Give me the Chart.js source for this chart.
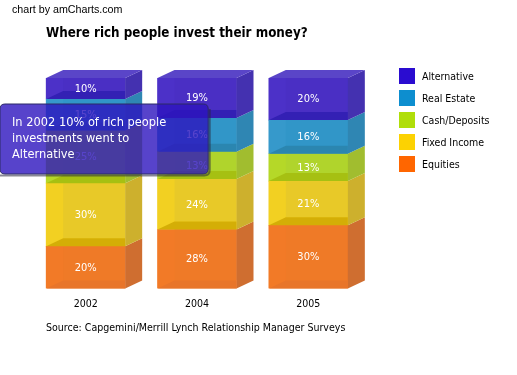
<!DOCTYPE html>
<html>
<head>
<meta charset="utf-8">
<title>Where rich people invest their money?</title>
<script src="https://cdn.jsdelivr.net/npm/chart.js@4"></script>
<style>
    html, body { margin: 0; padding: 0; background: #fff; overflow: hidden; }
    #wrap { position: relative; width: 517px; height: 375px; font-family: "DejaVu Sans Condensed", sans-serif; color: #000; }
    #wrap canvas { position: absolute; left: 0; top: 0; }
    .txt { position: absolute; white-space: nowrap; }
    #credit { left: 12px; top: 2px; font: 10.7px "Liberation Sans", sans-serif; line-height: 14px; }
    #titulo { left: 46px; top: 24px; font: bold 13.3px "DejaVu Sans Condensed", sans-serif; line-height: 18px; }
    #fonte { left: 46px; top: 319px; font-size: 10.55px; line-height: 16px; }
    #legenda { position: absolute; left: 399px; top: 68px; }
    #legenda div { position: relative; height: 22px; font-size: 10.5px; line-height: 17px; padding-left: 23px; }
    #legenda i { position: absolute; left: 0; top: 0; width: 16px; height: 16px; }
</style>
</head>
<body>
<div id="wrap">
    <canvas id="grafico" width="517" height="375"></canvas>
    <div class="txt" id="credit">chart by amCharts.com</div>
    <div class="txt" id="titulo">Where rich people invest their money?</div>
    <div class="txt" id="fonte">Source: Capgemini/Merrill Lynch Relationship Manager Surveys</div>
    <div id="legenda"></div>
</div>
<script>
const anos = ['2002', '2004', '2005'];
const alternative = [10, 19, 20];
const realEstate = [15, 16, 16];
const cashDeposits = [25, 13, 13];
const fixedIncome = [30, 24, 21];
const equities = [20, 28, 30];
const nomes = ['Equities', 'Fixed Income', 'Cash/Deposits', 'Real Estate', 'Alternative'];

// cores: legenda, frente, lateral, faixa de baixo
const corLegenda = ['#ff6600', '#fcd202', '#b0de09', '#0d8ecf', '#2a0cd0'];
const corFrente = ['#f27a27', '#f2d022', '#b5d828', '#3699cb', '#4c31c8'];
const corMeio = ['#ef7a27', '#e8c928', '#b0d42c', '#3196c8', '#4a2fc4'];
const corLado = ['#cf6e30', '#cdb02d', '#a1bd2f', '#2f86b3', '#4431b0'];
const corBase = ['#e8752a', '#d4ae06', '#a6c012', '#2b86b0', '#3320b4'];
const corTopo = '#5a45c8';

const DX = 17, DY = 8;
const fonte = 'DejaVu Sans Condensed';

function poligono(ctx, pontos, cor) {
    ctx.fillStyle = cor;
    ctx.beginPath();
    pontos.forEach((p, i) => i ? ctx.lineTo(p[0], p[1]) : ctx.moveTo(p[0], p[1]));
    ctx.closePath();
    ctx.fill();
}

// desenha as faces 3D em cima das barras do Chart.js
const barras3d = {
    id: 'barras3d',
    afterDatasetsDraw(chart) {
        const ctx = chart.ctx;
        chart.data.datasets.forEach((ds, d) => {
            chart.getDatasetMeta(d).data.forEach((bar, i) => {
                const esq = bar.x - bar.width / 2, dir = bar.x + bar.width / 2;
                const yt = bar.y, yb = bar.base;
                ctx.fillStyle = corMeio[d];
                ctx.fillRect(esq + DX, yt, bar.width - DX, yb - yt - DY);
                poligono(ctx, [[dir, yt], [dir + DX, yt - DY], [dir + DX, yb - DY], [dir, yb]], corLado[d]);
                poligono(ctx, [[esq, yb], [esq + DX, yb - DY], [dir, yb - DY], [dir, yb]], corBase[d]);
                if (d === chart.data.datasets.length - 1) {
                    poligono(ctx, [[esq, yt], [esq + DX, yt - DY], [dir + DX, yt - DY], [dir, yt]], corTopo);
                }
                ctx.fillStyle = '#fff';
                ctx.font = '11px "' + fonte + '", sans-serif';
                ctx.textAlign = 'center';
                ctx.textBaseline = 'middle';
                ctx.fillText(ds.data[i] + '%', bar.x, (yt + yb) / 2 + 0.5);
            });
        });
    },
    // sombra do balão, só nos lados direito e de baixo
    beforeTooltipDraw(chart, args) {
        const t = args.tooltip, ctx = chart.ctx;
        ctx.save();
        ctx.strokeStyle = 'rgba(40,40,60,0.55)';
        ctx.lineWidth = 2;
        ctx.beginPath();
        ctx.moveTo(t.x, t.y + t.height + 1.5);
        ctx.lineTo(t.x + t.width - 4, t.y + t.height + 1.5);
        ctx.quadraticCurveTo(t.x + t.width + 1.5, t.y + t.height + 1.5, t.x + t.width + 1.5, t.y + t.height - 4);
        ctx.lineTo(t.x + t.width + 1.5, t.y + 5);
        ctx.stroke();
        ctx.restore();
    }
};

Chart.Tooltip.positioners.balao = function () {
    return { x: 0, y: 104, xAlign: 'left', yAlign: 'top' };
};

const seriesValores = [equities, fixedIncome, cashDeposits, realEstate, alternative];

const chart = new Chart(document.getElementById('grafico').getContext('2d'), {
    type: 'bar',
    data: {
        labels: anos,
        datasets: nomes.map((nome, i) => ({
            label: nome,
            data: seriesValores[i],
            backgroundColor: corFrente[i],
            borderWidth: 0,
            barThickness: 79
        }))
    },
    options: {
        responsive: false,
        animation: false,
        events: [],
        layout: { padding: { left: 30, right: 153, top: 78, bottom: 62 } },
        scales: {
            x: {
                stacked: true,
                grid: { display: false },
                border: { display: false },
                ticks: { color: '#000', padding: 2, maxRotation: 0, font: { family: fonte, size: 10.5 } }
            },
            y: { stacked: true, min: 0, max: 100, display: false }
        },
        plugins: {
            legend: { display: false },
            title: { display: false },
            tooltip: {
                position: 'balao',
                xAlign: 'left',
                yAlign: 'top',
                backgroundColor: 'rgba(45,20,190,0.8)',
                borderColor: '#2c2a66',
                borderWidth: 1,
                cornerRadius: 5,
                caretSize: 0,
                caretPadding: 0,
                displayColors: false,
                padding: { left: 12, right: 42, top: 11, bottom: 11 },
                bodyColor: '#fff',
                bodyFont: { family: fonte, size: 12.7, lineHeight: 1.26 },
                bodySpacing: 0,
                callbacks: {
                    title: () => '',
                    label: (c) => ['In ' + c.label + ' ' + c.raw + '% of rich people', 'investments went to', c.dataset.label]
                }
            }
        }
    },
    plugins: [barras3d]
});

// balão fixo em Alternative 2002
chart.tooltip.setActiveElements([{ datasetIndex: 4, index: 0 }], { x: 0, y: 0 });
chart.update();

// legenda em html, Alternative primeiro
const legenda = document.getElementById('legenda');
nomes.slice().reverse().forEach((nome, i) => {
    const linha = document.createElement('div');
    const cor = corLegenda[corLegenda.length - 1 - i];
    linha.innerHTML = '<i style="background:' + cor + '"></i>' + nome;
    legenda.appendChild(linha);
});
</script>
</body>
</html>
